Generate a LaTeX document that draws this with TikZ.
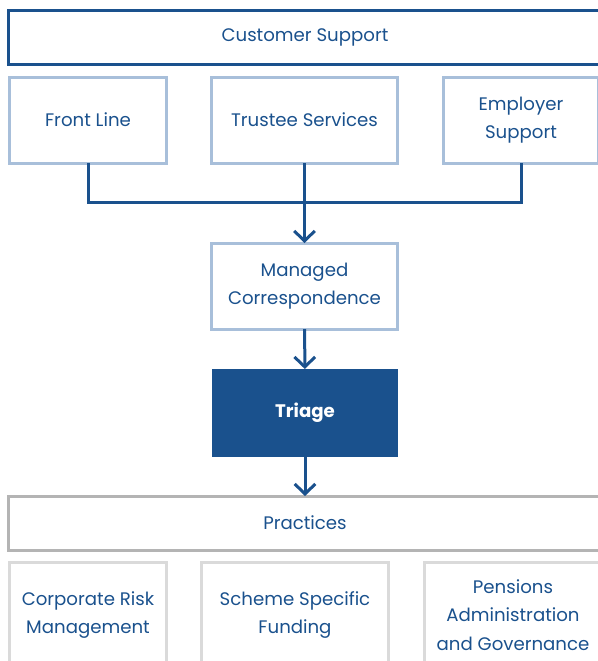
\documentclass[tikz,border=0pt]{standalone}
\usepackage{fontspec}
\setmainfont{Poppins}
\usepackage{tikz}
\usetikzlibrary{arrows.meta}

\definecolor{navy}{HTML}{1A518D}
\definecolor{paleblue}{HTML}{A8BFDA}
\definecolor{midgrey}{HTML}{B4B4B4}
\definecolor{palegrey}{HTML}{DADADA}

\tikzset{
    box/.style={rectangle, inner sep=0pt, outer sep=0pt, line width=0.09cm, align=center,
        text=navy, font=\fontsize{15.5}{24.5}\selectfont},
    headbox/.style={box, draw=navy, minimum width=17.76cm, minimum height=1.635cm},
    teambox/.style={box, draw=paleblue, minimum height=2.58cm},
    practicebox/.style={box, draw=palegrey, minimum height=3.18cm},
    flow/.style={draw=navy, line width=0.09cm},
    flowarrow/.style={flow, -{Straight Barb[length=0.3cm, width=0.62cm, line width=0.09cm]}}
}

\begin{document}
\begin{tikzpicture}[x=0.03cm, y=-0.03cm]
        \useasboundingbox (0,0) rectangle (598,661);
        \clip (0,0) rectangle (598,661);

        % customer support team
        \node[headbox] (cs) at (305, 37.5) {Customer Support};
        \node[teambox, minimum width=4.71cm] (front) at (88, 120) {Front Line};
        \node[teambox, minimum width=5.58cm] (trustee) at (304.5, 120) {Trustee Services};
        \node[teambox, minimum width=4.65cm] (employer) at (521, 120) {Employer\\Support};

        % routing
        \node[teambox, minimum width=5.58cm] (managed) at (304.5, 286) {Managed\\Correspondence};
        \node[box, fill=navy, minimum width=5.58cm, minimum height=2.64cm, text=white,
            font=\fontsize{15.5}{24.5}\selectfont\bfseries] (triage) at (305, 413) {Triage};

        % practices
        \node[headbox, draw=midgrey, minimum height=1.62cm] (practices) at (305, 523) {Practices};
        \node[practicebox, minimum width=4.71cm] (risk) at (88, 615) {Corporate Risk\\Management};
        \node[practicebox, minimum width=5.61cm] (scheme) at (295, 615) {Scheme Specific\\Funding};
        \node[practicebox, minimum width=5.28cm] (pensions) at (513, 615) {Pensions\\Administration\\and Governance};

        \coordinate (join) at (304.5, 202);
        \draw[flow] (front.south) |- (join) -| (employer.south);
        \draw[flow] (trustee.south) -- (join);
        \draw[flowarrow] (join) -- (managed.north);
        \draw[flowarrow] (managed) -- (triage);
        \draw[flowarrow] (triage) -- (practices);
    \end{tikzpicture}
\end{document}
